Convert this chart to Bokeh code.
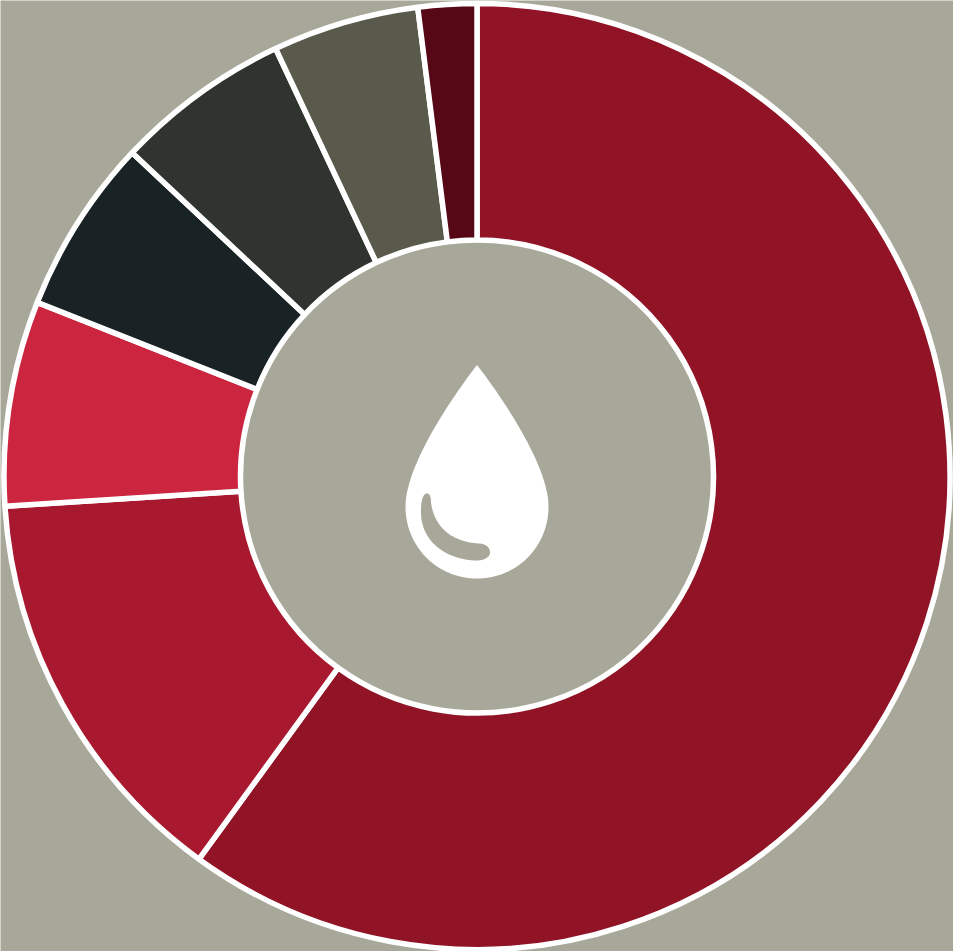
import numpy as np
from bokeh.plotting import figure
from bokeh.models import Range1d
from bokeh.embed import file_html
from bokeh.resources import INLINE

shares = [60, 14, 7, 6, 6, 5, 2]
colors = ["#901326", "#a8192f", "#cc2540", "#192325", "#2f342f", "#5a5a4c", "#560817"]
BG = "#a8a89a"
W, H = 953, 951
CX, CY = 476.5, H - 476.0
R_OUT, R_IN = 473.0, 236.5

p = figure(width=W, height=H, output_backend="svg", toolbar_location=None,
           x_range=Range1d(0, W), y_range=Range1d(0, H),
           background_fill_color=BG, border_fill_color=BG, outline_line_color=None,
           min_border=0)
p.axis.visible = False
p.grid.visible = False
p.styles = {"position": "fixed", "left": "0px", "top": "0px"}

cum = np.cumsum([0] + shares) / 100.0
starts = np.pi / 2 - 2 * np.pi * cum[:-1]
ends = np.pi / 2 - 2 * np.pi * cum[1:]
p.annular_wedge(x=CX, y=CY, inner_radius=R_IN, outer_radius=R_OUT,
                start_angle=starts, end_angle=ends, direction="clock",
                fill_color=colors, line_color="white", line_width=5.5)


def bez(a, b, c, d, n=40):
    t = np.linspace(0, 1, n)[:, None]
    a, b, c, d = map(np.array, (a, b, c, d))
    return (1-t)**3*a + 3*(1-t)**2*t*b + 3*(1-t)*t**2*c + t**3*d


def outline(segs):
    pts = np.vstack([bez(*s) for s in segs])
    return pts[:, 0], H - pts[:, 1]


drop = [
    ((476.5, 364.5), (476.5, 364.5), (405, 455), (405, 506)),
    ((405, 506), (405, 546), (436.5, 578), (476.5, 578)),
    ((476.5, 578), (516.5, 578), (548, 546), (548, 506)),
    ((548, 506), (548, 455), (476.5, 364.5), (476.5, 364.5)),
]
glint = [
    ((420.5, 510), (420.5, 500), (422.5, 493), (426.5, 493)),
    ((426.5, 493), (429.5, 493), (430.5, 497), (430.5, 502)),
    ((430.5, 502), (433.5, 525), (449.5, 541), (477.5, 543)),
    ((477.5, 543), (485.5, 543), (489.5, 547), (489.5, 552)),
    ((489.5, 552), (489.5, 557), (483.5, 560), (475.5, 560)),
    ((475.5, 560), (444.5, 559), (419.5, 540), (420.5, 510)),
]
dx, dy = outline(drop)
p.patch(dx, dy, fill_color="white", line_color=None)
gx, gy = outline(glint)
p.patch(gx, gy, fill_color=BG, line_color=None)

open("out.html", "w").write(file_html(p, INLINE))
